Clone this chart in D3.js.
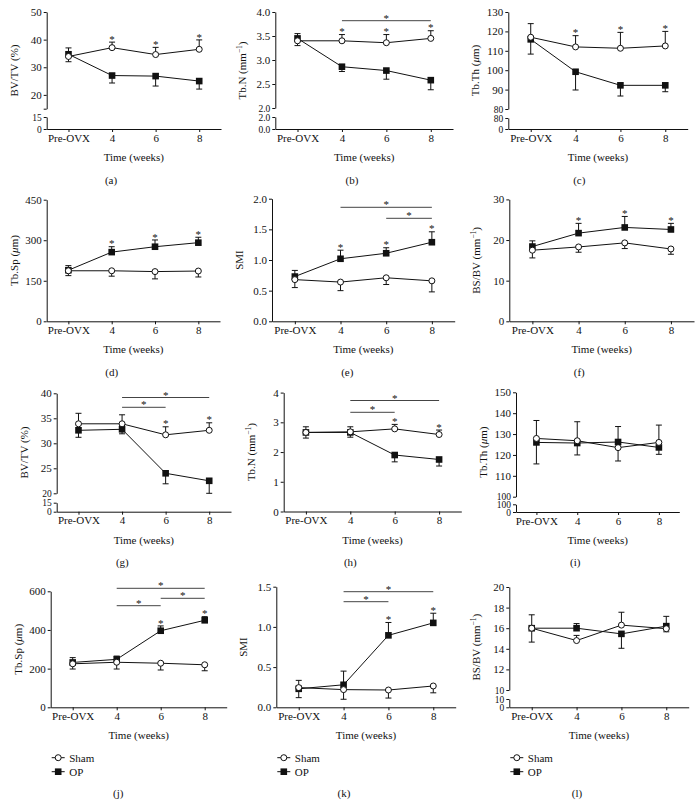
<!DOCTYPE html>
<html><head><meta charset="utf-8">
<script src="https://cdn.jsdelivr.net/npm/d3@7"></script>
<style>
body{margin:0;background:#fff}
svg text{font-family:"Liberation Serif","Times New Roman",serif;fill:#111}
</style>
</head><body><svg id="c" width="699" height="805"></svg>
<script>
const categories = ["Pre-OVX", "4", "6", "8"];
const seriesNames = ["Sham", "OP"];

// Signed error values: positive = bar drawn upward, negative = downward
// (a) BV/TV (%)
const aSham = [33.9, 37.1, 34.6, 36.5], aShamErr = [-1.9, 2.0, 2.6, 3.4];
const aOP = [34.7, 27.0, 26.8, 25.0], aOPErr = [2.3, -2.7, -3.6, -2.9];
const aStars = [0, 1, 1, 1];
const aTicks = [15, 20, 30, 40, 50], aTickLabels = ["", "20", "30", "40", "50"], aLowLabels = ["15", "0"];
// (b) Tb.N
const bSham = [3.40, 3.40, 3.36, 3.45], bShamErr = [-0.10, 0.13, 0.17, 0.16];
const bOP = [3.45, 2.86, 2.78, 2.58], bOPErr = [0.10, -0.10, -0.18, -0.20];
const bStars = [0, 1, 1, 1], bSig = [[1, 3]];
const bTicks = [2.0, 2.5, 3.0, 3.5, 4.0], bTickLabels = ["2.0", "2.5", "3.0", "3.5", "4.0"], bLowLabels = ["2.0", "0.0"];
// (c) Tb.Th
const cSham = [117.0, 112.0, 111.3, 112.5], cShamErr = [7.0, 5.8, 8.2, 7.5];
const cOP = [115.9, 99.2, 92.2, 92.2], cOPErr = [-7.6, -9.4, -5.5, -3.3];
const cStars = [0, 1, 1, 1];
const cTicks = [80, 90, 100, 110, 120, 130], cTickLabels = ["80", "90", "100", "110", "120", "130"], cLowLabels = ["80", "0"];
// (d) Tb.Sp
const dSham = [187, 187, 184, 186], dShamErr = [-18, -20, -27, -22];
const dOP = [189, 256, 276, 291], dOPErr = [17, 20, 25, 20];
const dStars = [0, 1, 1, 1];
const dTicks = [0, 150, 300, 450], dTickLabels = ["0", "150", "300", "450"];
// (e) SMI
const eSham = [0.68, 0.64, 0.71, 0.66], eShamErr = [-0.13, -0.14, -0.11, -0.18];
const eOP = [0.73, 1.02, 1.11, 1.29], eOPErr = [0.10, 0.14, 0.09, 0.17];
const eStars = [0, 1, 1, 1], eSig = [[1, 3], [2, 3]];
const eTicks = [0, 0.5, 1.0, 1.5, 2.0], eTickLabels = ["0.0", "0.5", "1.0", "1.5", "2.0"];
// (f) BS/BV
const fSham = [17.5, 18.3, 19.3, 17.8], fShamErr = [-1.9, -1.3, -1.4, -1.3];
const fOP = [18.4, 21.7, 23.1, 22.6], fOPErr = [1.4, 2.4, 2.7, 1.5];
const fStars = [0, 1, 1, 1];
const fTicks = [0, 10, 20, 30], fTickLabels = ["0", "10", "20", "30"];
// (g) BV/TV
const gSham = [33.9, 33.9, 31.7, 32.6], gShamErr = [2.1, 1.8, 1.6, 1.5];
const gOP = [32.6, 32.8, 24.0, 22.5], gOPErr = [-1.4, -0.9, -2.1, -2.5];
const gStars = [0, 0, 1, 1], gSig = [[1, 3], [1, 2]];
const gTicks = [20, 25, 30, 35, 40], gTickLabels = ["20", "25", "30", "35", "40"], gLowLabels = ["15", "0"];
// (h) Tb.N
const hSham = [2.66, 2.68, 2.78, 2.59], hShamErr = [0.19, 0.17, 0.15, 0.15];
const hOP = [2.66, 2.66, 1.90, 1.75], hOPErr = [-0.19, -0.16, -0.23, -0.22];
const hStars = [0, 0, 1, 1], hSig = [[1, 3], [1, 2]];
const hTicks = [0, 1, 2, 3, 4], hTickLabels = ["0", "1", "2", "3", "4"];
// (i) Tb.Th
const iSham = [127.9, 126.8, 123.5, 126.0], iShamErr = [8.6, 9.1, -6.4, 8.3];
const iOP = [126.0, 125.7, 126.2, 123.6], iOPErr = [-10.3, -5.7, 7.4, -3.3];
const iStars = [0, 0, 0, 0];
const iTicks = [100, 110, 120, 130, 140, 150], iTickLabels = ["100", "110", "120", "130", "140", "150"], iLowLabels = ["100", "0"];
// (j) Tb.Sp
const jSham = [225, 233, 228, 220], jShamErr = [-27, -35, -35, -31];
const jOP = [232, 248, 396, 450], jOPErr = [25, 17, 25, 19];
const jStars = [0, 0, 1, 1], jSig = [[1, 3], [2, 3], [1, 2]];
const jTicks = [0, 200, 400, 600], jTickLabels = ["0", "200", "400", "600"];
// (k) SMI
const kSham = [0.245, 0.22, 0.215, 0.265], kShamErr = [0.09, -0.12, -0.10, -0.085];
const kOP = [0.23, 0.28, 0.895, 1.05], kOPErr = [-0.11, 0.17, 0.16, 0.12];
const kStars = [0, 0, 1, 1], kSig = [[1, 3], [1, 2]];
const kTicks = [0, 0.5, 1.0, 1.5], kTickLabels = ["0.0", "0.5", "1.0", "1.5"];
// (l) BS/BV
const lSham = [16.0, 14.8, 16.3, 15.95], lShamErr = [-1.35, 0.5, 1.25, -0.3];
const lOP = [16.0, 16.0, 15.45, 16.2], lOPErr = [1.3, 0.45, -1.4, 0.95];
const lStars = [0, 0, 0, 0];
const lTicks = [10, 12, 14, 16, 18, 20], lTickLabels = ["10", "12", "14", "16", "18", "20"], lLowLabels = ["10", "0"];

const T_BVTV = [{t: "BV/TV (%)"}];
const T_TBN = [{t: "Tb.N (mm"}, {t: "−1", sup: 1}, {t: ")"}];
const T_TBTH = [{t: "Tb.Th ("}, {t: "μ", it: 1}, {t: "m)"}];
const T_TBSP = [{t: "Tb.Sp ("}, {t: "μ", it: 1}, {t: "m)"}];
const T_SMI = [{t: "SMI"}];
const T_BSBV = [{t: "BS/BV (mm"}, {t: "−1", sup: 1}, {t: ")"}];

// layout (positions only)
const panels = [
 {id:"(a)", title:T_BVTV, sham:aSham, shamErr:aShamErr, op:aOP, opErr:aOPErr, stars:aStars, sig:[], ticks:aTicks, tickLabels:aTickLabels, low:aLowLabels,
  L:{left:46.7,right:221,axY:129,yLo:108.7,yHi:12,lowTop:117,letterX:111,sigY:[]}},
 {id:"(b)", title:T_TBN, sham:bSham, shamErr:bShamErr, op:bOP, opErr:bOPErr, stars:bStars, sig:bSig, ticks:bTicks, tickLabels:bTickLabels, low:bLowLabels,
  L:{left:275.3,right:453,axY:129,yLo:108,yHi:12,lowTop:117,letterX:352,sigY:[20.7]}},
 {id:"(c)", title:T_TBTH, sham:cSham, shamErr:cShamErr, op:cOP, opErr:cOPErr, stars:cStars, sig:[], ticks:cTicks, tickLabels:cTickLabels, low:cLowLabels,
  L:{left:508.3,right:687.7,axY:129,yLo:109,yHi:12,lowTop:118,letterX:579.3,sigY:[]}},
 {id:"(d)", title:T_TBSP, sham:dSham, shamErr:dShamErr, op:dOP, opErr:dOPErr, stars:dStars, sig:[], ticks:dTicks, tickLabels:dTickLabels,
  L:{left:46.7,right:220,axY:321.3,yLo:321.3,yHi:199.7,letterX:111.7,sigY:[]}},
 {id:"(e)", title:T_SMI, sham:eSham, shamErr:eShamErr, op:eOP, opErr:eOPErr, stars:eStars, sig:eSig, ticks:eTicks, tickLabels:eTickLabels,
  L:{left:272,right:454.7,axY:321.3,yLo:321.3,yHi:198.7,letterX:347.3,sigY:[207.3,218.3]}},
 {id:"(f)", title:T_BSBV, sham:fSham, shamErr:fShamErr, op:fOP, opErr:fOPErr, stars:fStars, sig:[], ticks:fTicks, tickLabels:fTickLabels,
  L:{left:509.3,right:694,axY:321.3,yLo:321.3,yHi:199.4,letterX:579.3,sigY:[]}},
 {id:"(g)", title:T_BVTV, sham:gSham, shamErr:gShamErr, op:gOP, opErr:gOPErr, stars:gStars, sig:gSig, ticks:gTicks, tickLabels:gTickLabels, low:gLowLabels,
  L:{left:56.7,right:231,axY:511.7,yLo:493.3,yHi:393.3,lowTop:502.7,letterX:122.3,sigY:[397.5,407.3]}},
 {id:"(h)", title:T_TBN, sham:hSham, shamErr:hShamErr, op:hOP, opErr:hOPErr, stars:hStars, sig:hSig, ticks:hTicks, tickLabels:hTickLabels,
  L:{left:283.7,right:461.3,axY:511.5,yLo:511.5,yHi:392.6,letterX:350.3,sigY:[400.5,412.3]}},
 {id:"(i)", title:T_TBTH, sham:iSham, shamErr:iShamErr, op:iOP, opErr:iOPErr, stars:iStars, sig:[], ticks:iTicks, tickLabels:iTickLabels, low:iLowLabels,
  L:{left:516,right:679.3,axY:512,yLo:496.7,yHi:392.3,lowTop:504.3,letterX:575.3,sigY:[]}},
 {id:"(j)", title:T_TBSP, sham:jSham, shamErr:jShamErr, op:jOP, opErr:jOPErr, stars:jStars, sig:jSig, ticks:jTicks, tickLabels:jTickLabels,
  L:{left:50.7,right:226.7,axY:707.3,yLo:707.3,yHi:591.3,letterX:118.3,sigY:[588.3,598.3,605.7],legend:1}},
 {id:"(k)", title:T_SMI, sham:kSham, shamErr:kShamErr, op:kOP, opErr:kOPErr, stars:kStars, sig:kSig, ticks:kTicks, tickLabels:kTickLabels,
  L:{left:276.3,right:455.7,axY:707.3,yLo:707.3,yHi:586.7,letterX:344,sigY:[591.7,601.7],legend:1}},
 {id:"(l)", title:T_BSBV, sham:lSham, shamErr:lShamErr, op:lOP, opErr:lOPErr, stars:lStars, sig:[], ticks:lTicks, tickLabels:lTickLabels, low:lLowLabels,
  L:{left:509.3,right:688.7,axY:707.3,yLo:690,yHi:587,lowTop:699,letterX:577,sigY:[],legend:1}}
];

const svg = d3.select("#c");
const FONT = "'Liberation Serif','Times New Roman',serif";
const INK = "#111";
const letterOffset = {129:55, 321.3:54.3, 511.7:54.3, 511.5:54.5, 512:54, 707.3:90};

function styleAxis(sel, fs) {
  sel.attr("font-size", fs || 11).attr("font-family", FONT);
  sel.selectAll("path,line").attr("stroke", INK).attr("stroke-width", 1);
  sel.selectAll("text").attr("fill", INK);
}

function drawSquare(g, cx, cy) {
  g.append("rect").attr("x", cx - 3.3).attr("y", cy - 3.3).attr("width", 6.6).attr("height", 6.6).attr("fill", INK);
}
function drawCircle(g, cx, cy) {
  g.append("circle").attr("cx", cx).attr("cy", cy).attr("r", 3).attr("fill", "#fff").attr("stroke", INK).attr("stroke-width", 1);
}

panels.forEach(p => {
  const L = p.L;
  const g = svg.append("g");
  const x = d3.scalePoint().domain(categories).range([L.left, L.right]).padding(0.5);
  const lo = p.ticks[0], hi = p.ticks[p.ticks.length - 1];
  const y = d3.scaleLinear().domain([lo, hi]).range([L.yLo, L.yHi]);
  const fmt = d => p.tickLabels[p.ticks.indexOf(d)];

  // y axis (upper/main segment)
  const ya = g.append("g").attr("transform", `translate(${L.left},0)`)
    .call(d3.axisLeft(y).tickValues(p.ticks).tickFormat(fmt).tickSize(3).tickSizeOuter(0).tickPadding(2))
    .call(styleAxis);
  // lower segment of broken axis
  if (p.low) {
    // bottom label of the upper segment sits close to the break: shrink it a little
    ya.selectAll(".tick text").filter(d => d === lo).attr("font-size", 9.5);
    const yl = d3.scaleLinear().domain([0, 1]).range([L.axY, L.lowTop]);
    g.append("g").attr("transform", `translate(${L.left},0)`)
      .call(d3.axisLeft(yl).tickValues([1, 0]).tickFormat((d) => d === 1 ? p.low[0] : p.low[1]).tickSize(3).tickSizeOuter(0).tickPadding(2))
      .call(s => styleAxis(s, 9.5));
  }
  // x axis
  g.append("g").attr("transform", `translate(0,${L.axY})`)
    .call(d3.axisBottom(x).tickSize(3).tickSizeOuter(0).tickPadding(2))
    .call(styleAxis);

  // axis titles
  g.append("text").attr("x", (L.left + L.right) / 2).attr("y", L.axY + 32)
    .attr("text-anchor", "middle").attr("font-size", 11).text("Time (weeks)");
  const tY = (L.yHi + L.axY) / 2, tX = L.left - 33;
  const tt = g.append("text").attr("transform", `translate(${tX},${tY}) rotate(-90)`)
    .attr("text-anchor", "middle").attr("dy", "0.35em").attr("font-size", 11);
  p.title.forEach(s => {
    const ts = tt.append("tspan").text(s.t);
    if (s.sup) ts.attr("font-size", 7.5).attr("baseline-shift", "super");
    if (s.it) ts.attr("font-style", "italic");
  });
  // panel letter
  g.append("text").attr("x", L.letterX).attr("y", L.axY + (letterOffset[L.axY] || 54))
    .attr("text-anchor", "middle").attr("font-size", 11).text(p.id);

  // data
  const line = d3.line().x((d, i) => x(categories[i])).y(d => y(d));
  [[p.op, p.opErr], [p.sham, p.shamErr]].forEach(([vals, errs]) => {
    g.append("path").datum(vals).attr("d", line).attr("fill", "none").attr("stroke", INK).attr("stroke-width", 1);
    vals.forEach((v, i) => {
      const e = errs[i]; if (!e) return;
      const cx = x(categories[i]), y0 = y(v), y1 = y(v + e);
      g.append("line").attr("x1", cx).attr("x2", cx).attr("y1", y0).attr("y2", y1).attr("stroke", INK).attr("stroke-width", 1);
      g.append("line").attr("x1", cx - 3).attr("x2", cx + 3).attr("y1", y1).attr("y2", y1).attr("stroke", INK).attr("stroke-width", 1);
    });
  });
  p.op.forEach((v, i) => drawSquare(g, x(categories[i]), y(v)));
  p.sham.forEach((v, i) => drawCircle(g, x(categories[i]), y(v)));

  // stars above points
  p.stars.forEach((s, i) => {
    if (!s) return;
    const top = Math.min(y(p.sham[i] + Math.max(0, p.shamErr[i])), y(p.op[i] + Math.max(0, p.opErr[i])));
    g.append("text").attr("x", x(categories[i])).attr("y", top + 0.6).attr("text-anchor", "middle").attr("font-size", 11).text("*");
  });
  // significance brackets
  p.sig.forEach((pair, k) => {
    const x1 = x(categories[pair[0]]), x2 = x(categories[pair[1]]), yy = L.sigY[k];
    g.append("line").attr("x1", x1).attr("x2", x2).attr("y1", yy).attr("y2", yy).attr("stroke", "#444").attr("stroke-width", 1);
    g.append("text").attr("x", (x1 + x2) / 2).attr("y", yy + 1).attr("text-anchor", "middle").attr("font-size", 11).text("*");
  });

  // legend
  if (L.legend) {
    seriesNames.forEach((name, k) => {
      const ly = L.axY + 50.4 + k * 14, lx0 = L.left + 1, lx1 = L.left + 14;
      g.append("line").attr("x1", lx0).attr("x2", lx1).attr("y1", ly).attr("y2", ly).attr("stroke", INK).attr("stroke-width", 1);
      if (k === 0) drawCircle(g, (lx0 + lx1) / 2, ly); else drawSquare(g, (lx0 + lx1) / 2, ly);
      g.append("text").attr("x", lx1 + 4.5).attr("y", ly).attr("dy", "0.35em").attr("font-size", 11).text(name);
    });
  }
});
</script>
</body></html>
